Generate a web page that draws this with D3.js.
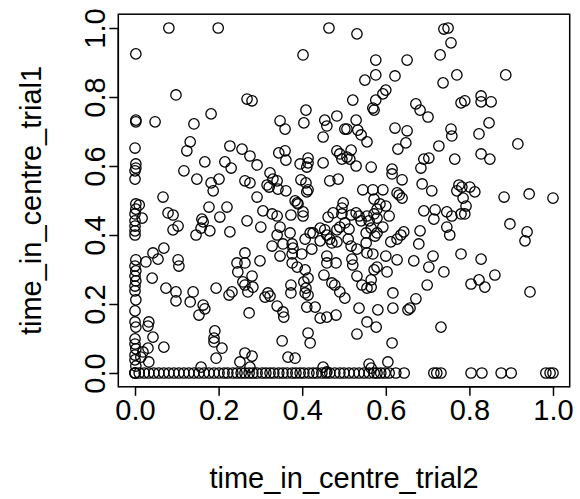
<!DOCTYPE html>
<html>
<head>
<meta charset="utf-8">
<script src="https://cdn.jsdelivr.net/npm/d3@7"></script>
<style>
  body { margin: 0; background: #fff; }
  svg text { font-family: "Liberation Sans", Arial, Helvetica, sans-serif; fill: #000; }
</style>
</head>
<body>
<div id="chart"></div>
<script>
// values, grouped by area (same order in both arrays)
const trial2 = [
  0.081,0.199,0.002,0.464,0.739,0.749,0.756,0.531,0.576,0.651,
  0.730,0.550,0.576,0.622,0.770,0.737,0.600,0.593,0.576,0.521,
  0.569,0.572,0.672,0.682,0.701,0.529,0.780,0.507,0.533,0.541,
  0.622,0.651,0.756,0.758,0.402,0.268,0.280,0.409,0.347,0.359,
  0.404,0.454,0.459,0.483,0.502,0.450,0.098,0.002,0.002,0.048,
  0.141,0.182,0.887,0.789,0.828,0.828,0.852,0.847,0.823,0.916,
  // left middle
  0,0.132,0.124,0.227,0.002,0.002,0,0,0.117,0.167,
  0.215,0.230,0.148,0.182,0.201,0.187,0.067,0.002,0.010,0.002,
  0,0.017,0,0,0,0,0.079,0.091,0.103,0.091,
  0.177,0.220,0.203,0.160,0.163,0.158,0.179,0.146,0.227,0.069,
  0.043,0.055,0.026,0.002,0.103,0.105,
  // centre
  0.256,0.275,0.292,0.344,0.359,0.361,0.414,0.414,0.411,0.395,
  0.450,0.483,0.490,0.495,0.323,0.330,0.340,0.316,0.321,0.263,
  0.275,0.361,0.342,0.397,0.409,0.414,0.411,0.466,0.486,0.292,
  0.383,0.388,0.390,0.498,0.495,0.306,0.328,0.340,0.373,0.402,
  0.402,0.462,0.474,0.495,0.268,0.301,0.347,0.340,0.371,0.419,
  0.426,0.443,0.454,0.459,0.483,0.490,0.502,0.407,0.443,0.466,
  0.471,0.483,0.263,0.328,0.354,0.376,0.378,0.423,0.347,0.376,
  0.399,0.299,0.263,0.459,
  // centre right
  0.555,0.648,0.629,0.727,0.517,0.507,0.514,0.529,0.565,0.615,
  0.615,0.639,0.684,0.691,0.703,0.765,0.687,0.710,0.775,0.770,
  0.545,0.569,0.593,0.572,0.627,0.632,0.639,0.600,0.586,0.579,
  0.529,0.536,0.541,0.555,0.560,0.572,0.579,0.608,0.517,0.512,
  0.565,0.553,0.579,0.574,0.593,0.691,0.718,0.715,0.746,0.758,
  0.780,0.746,0.753,0.682,0.679,0.643,0.636,0.627,0.612,0.510,
  0.517,0.531,0.553,0.555,0.569,0.600,0.519,0.667,0.713,0.780,
  // right middle
  0.828,0.849,0.782,0.801,0.813,0.785,0.792,0.789,0.883,0.943,
  1.0,0.897,0.938,0.933,0.828,
  // x = 0 column, lower part
  0,0.002,0,0.002,0,0,0.002,0,0,0.002,0,0,0.002,0,0,0.002,
  // lower left
  0.033,0.031,0.043,0.031,0.019,0.014,0.033,0.069,0.041,0.074,
  0.098,0.098,0.132,0.139,0.163,0.167,0.153,0.194,0.225,0.232,
  0.191,0.189,0.189,0.208,0.194,0.158,
  // lower centre
  0.244,0.246,0.280,0.258,0.263,0.282,0.270,0.311,0.318,0.323,
  0.340,0.354,0.356,0.273,0.373,0.373,0.376,0.388,0.407,0.404,
  0.414,0.409,0.407,0.414,0.411,0.431,0.452,0.459,0.481,0.471,
  0.478,0.490,0.502,0.443,0.459,0.481,0.414,0.419,0.352,0.366,
  0.383,0.251,0.263,0.280,0.275,0.450,0.459,
  // lower centre right
  0.521,0.579,0.572,0.603,0.627,0.703,0.739,0.531,0.565,0.543,
  0.555,0.565,0.699,0.617,0.672,0.536,0.581,0.617,0.653,0.658,
  0.555,0.577,0.531,0.732,0.615,0.560,0.565,0.605,
  // lower right
  0.861,0.804,0.823,0.837,0.945,
  // bottom row (trial1 = 0)
  0,0,0,0.010,0.022,0.033,0.045,0.057,0.069,0.081,
  0.093,0.105,0.117,0.129,0.141,0.153,0.165,0.177,0.189,0.201,
  0.213,0.222,0.234,0.244,0.254,0.263,0.273,0.282,0.292,0.304,
  0.313,0.323,0.332,0.344,0.354,0.364,0.376,0.385,0.395,0.404,
  0.416,0.426,0.435,0.447,0.457,0.466,0.478,0.490,0.500,0.512,
  0.524,0.536,0.548,0.560,0.572,0.579,0.588,0.598,0.608,0.624,
  0.644,0.715,0.722,0.732,0.804,0.830,0.876,0.900,0.983,0.993,
  1.0
];

const trial1 = [
  1.0,1.0,0.925,1.0,0.997,1.0,0.957,0.983,0.907,0.907,
  0.922,0.849,0.864,0.861,0.864,0.841,0.820,0.809,0.791,0.791,
  0.768,0.762,0.780,0.762,0.742,0.733,0.783,0.707,0.704,0.690,
  0.710,0.702,0.707,0.687,0.922,0.794,0.789,0.762,0.731,0.707,
  0.725,0.733,0.716,0.745,0.707,0.684,0.806,0.733,0.728,0.728,
  0.722,0.751,0.864,0.789,0.803,0.786,0.786,0.725,0.693,0.664,
  // left middle
  0.652,0.670,0.644,0.658,0.606,0.594,0.586,0.562,0.586,0.612,
  0.612,0.594,0.562,0.551,0.562,0.528,0.510,0.490,0.487,0.475,
  0.461,0.449,0.441,0.426,0.412,0.400,0.464,0.458,0.426,0.415,
  0.481,0.481,0.452,0.446,0.438,0.420,0.412,0.400,0.409,0.362,
  0.348,0.330,0.322,0.328,0.328,0.310,
  // centre
  0.649,0.629,0.603,0.638,0.644,0.617,0.623,0.609,0.597,0.606,
  0.609,0.644,0.635,0.620,0.580,0.562,0.557,0.545,0.539,0.557,
  0.551,0.528,0.533,0.560,0.551,0.531,0.525,0.557,0.562,0.510,
  0.499,0.493,0.490,0.493,0.478,0.470,0.461,0.455,0.458,0.467,
  0.455,0.452,0.464,0.461,0.441,0.423,0.423,0.400,0.406,0.406,
  0.406,0.420,0.415,0.400,0.415,0.423,0.435,0.388,0.383,0.388,
  0.377,0.380,0.348,0.368,0.374,0.374,0.362,0.359,0.339,0.345,
  0.345,0.325,0.319,0.339,
  // centre right
  0.670,0.667,0.649,0.658,0.646,0.626,0.620,0.600,0.597,0.591,
  0.577,0.560,0.594,0.620,0.623,0.620,0.548,0.528,0.545,0.528,
  0.531,0.531,0.531,0.504,0.522,0.516,0.507,0.484,0.490,0.475,
  0.464,0.455,0.441,0.455,0.441,0.461,0.449,0.455,0.458,0.417,
  0.420,0.406,0.406,0.397,0.423,0.470,0.473,0.446,0.467,0.455,
  0.461,0.423,0.400,0.412,0.374,0.409,0.400,0.388,0.380,0.388,
  0.368,0.359,0.377,0.348,0.345,0.339,0.330,0.325,0.339,0.345,
  // right middle
  0.635,0.620,0.539,0.539,0.525,0.507,0.484,0.461,0.510,0.519,
  0.507,0.432,0.409,0.383,0.330,
  // x = 0 column, lower part
  0.310,0.296,0.281,0.267,0.252,0.238,0.212,0.180,0.148,0.133,0.099,0.084,0.070,0.052,0.038,0.020,
  // lower left
  0.148,0.136,0.104,0.072,0.061,0.046,0.032,0.075,0.275,0.246,
  0.235,0.209,0.206,0.235,0.197,0.186,0.168,0.246,0.226,0.235,
  0.122,0.101,0.090,0.072,0.043,0.017,
  // lower centre
  0.319,0.293,0.281,0.264,0.255,0.249,0.235,0.220,0.232,0.223,
  0.194,0.177,0.162,0.174,0.255,0.232,0.319,0.307,0.299,0.264,
  0.275,0.246,0.232,0.226,0.191,0.191,0.284,0.319,0.319,0.261,
  0.255,0.235,0.217,0.159,0.162,0.168,0.116,0.087,0.093,0.046,
  0.043,0.032,0.058,0.049,0.017,0.017,0.003,
  // lower centre right
  0.313,0.307,0.299,0.293,0.328,0.307,0.293,0.281,0.270,0.255,
  0.246,0.249,0.255,0.232,0.215,0.188,0.183,0.188,0.183,0.188,
  0.148,0.133,0.113,0.133,0.087,0.026,0.014,0.032,
  // lower right
  0.284,0.258,0.270,0.249,0.235,
  // bottom row
  0,0,0,0,0,0,0,0,0,0,
  0,0,0,0,0,0,0,0,0,0,
  0,0,0,0,0,0,0,0,0,0,
  0,0,0,0,0,0,0,0,0,0,
  0,0,0,0,0,0,0,0,0,0,
  0,0,0,0,0,0,0,0,0,0,
  0,0,0,0,0,0,0,0,0,0,
  0
];

const tickValues = [0, 0.2, 0.4, 0.6, 0.8, 1.0];
const xLabel = "time_in_centre_trial2";
const yLabel = "time_in_centre_trial1";

const width = 580, height = 499;
const fontSize = 29;

const svg = d3.select("#chart").append("svg")
  .attr("width", width)
  .attr("height", height);

// R pads the data range by 4% on each side
const x = d3.scaleLinear().domain([-0.04, 1.04]).range([118.3, 569.7]);
const y = d3.scaleLinear().domain([-0.04, 1.04]).range([386.8, 14.2]);

const points = trial2.map((d, i) => ({ x: d, y: trial1[i] }));

svg.append("g")
  .selectAll("circle")
  .data(points)
  .enter().append("circle")
  .attr("cx", d => x(d.x))
  .attr("cy", d => y(d.y))
  .attr("r", 5.2)
  .attr("fill", "none")
  .attr("stroke", "#000")
  .attr("stroke-width", 1.3);

// box
svg.append("rect")
  .attr("x", x.range()[0])
  .attr("y", y.range()[1])
  .attr("width", x.range()[1] - x.range()[0])
  .attr("height", y.range()[0] - y.range()[1])
  .attr("fill", "none")
  .attr("stroke", "#000")
  .attr("stroke-width", 1.5);

const fmt = d3.format(".1f");

const xAxis = svg.append("g")
  .attr("transform", `translate(0,${y.range()[0]})`)
  .call(d3.axisBottom(x).tickValues(tickValues).tickFormat(fmt).tickSize(9));
xAxis.select(".domain").remove();
xAxis.selectAll("line").attr("stroke-width", 1.5);
xAxis.selectAll("text")
  .attr("dy", null)
  .attr("y", 33)
  .style("font-size", fontSize + "px")
  .style("font-family", "'Liberation Sans', Arial, sans-serif");

const yAxis = svg.append("g")
  .attr("transform", `translate(${x.range()[0]},0)`)
  .call(d3.axisLeft(y).tickValues(tickValues).tickFormat(fmt).tickSize(9));
yAxis.select(".domain").remove();
yAxis.selectAll("line").attr("stroke-width", 1.5);
yAxis.selectAll("text")
  .attr("transform", "rotate(-90)")
  .attr("x", 0)
  .attr("y", -13)
  .attr("dy", null)
  .style("text-anchor", "middle")
  .style("font-size", fontSize + "px")
  .style("font-family", "'Liberation Sans', Arial, sans-serif");

// axis lines between first and last tick, as in base R
svg.append("line")
  .attr("x1", x(0)).attr("x2", x(1))
  .attr("y1", y.range()[0]).attr("y2", y.range()[0])
  .attr("stroke", "#000").attr("stroke-width", 1.5);
svg.append("line")
  .attr("x1", x.range()[0]).attr("x2", x.range()[0])
  .attr("y1", y(0)).attr("y2", y(1))
  .attr("stroke", "#000").attr("stroke-width", 1.5);

svg.append("text")
  .attr("x", (x.range()[0] + x.range()[1]) / 2)
  .attr("y", 488)
  .attr("text-anchor", "middle")
  .style("font-size", fontSize + "px")
  .text(xLabel);

svg.append("text")
  .attr("transform", `translate(41,${(y.range()[0] + y.range()[1]) / 2}) rotate(-90)`)
  .attr("text-anchor", "middle")
  .style("font-size", fontSize + "px")
  .text(yLabel);
</script>
</body>
</html>
